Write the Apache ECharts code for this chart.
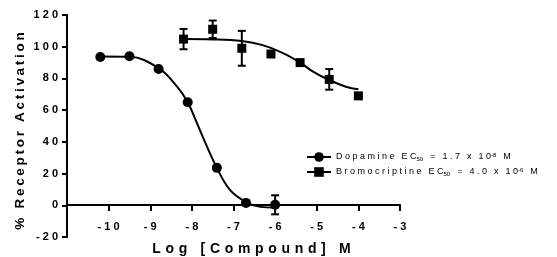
<!DOCTYPE html>
<html>
<head>
<meta charset="utf-8">
<script src="https://cdn.jsdelivr.net/npm/echarts@6/dist/echarts.min.js"></script>
<style>
  html, body { margin: 0; padding: 0; background: #fff; }
  #chart { width: 557px; height: 257px; }
</style>
</head>
<body>
<div id="chart"></div>
<script>
// measured points [log M, % activation]
var dopaminePts = [[-10.2, 93.5], [-9.5, 94], [-8.8, 86], [-8.1, 65], [-7.4, 23.6], [-6.7, 1.5], [-6.0, 0.3]];
var dopamineErr = [0, 0, 0, 0, 0, 0, 6];
var bromoPts = [[-8.2, 104.8], [-7.5, 111], [-6.8, 99], [-6.1, 95.4], [-5.4, 90], [-4.7, 79.4], [-4.0, 69]];
var bromoErr = [6.4, 5.5, 11, 0, 0, 6.5, 0];

// fitted curves
var dopamineFit = [[-10.2, 93.8], [-9.5, 93.6], [-8.8, 86.5], [-8.36, 75], [-8.1, 65], [-7.88, 52], [-7.72, 42],
    [-7.4, 23.6], [-7.08, 9.5], [-6.7, 2], [-6.36, -1], [-6.0, -1.5]];
var bromoFit = [[-8.2, 104.8], [-7.5, 104.6], [-6.8, 103.6], [-6.3, 101], [-5.8, 95.8], [-5.4, 90], [-5.1, 84.5],
    [-4.7, 79], [-4.3, 74.8], [-4.0, 73.2]];

var xTicks = [-11, -3, 1];
var yTicks = [-20, 120, 20];

var names = ['Dopamine', 'Bromocriptine'];
var ec50Base = ['1.7', '4.0'];
var ec50Exp = ['-8', '-6'];

var font = 'Liberation Sans, Arial, Helvetica, sans-serif';

function spaced(s, sep) {
    return String(s).split('').join(sep);
}

var dom = document.getElementById('chart');
var myChart = echarts.init(dom, null, {renderer: 'canvas'});

function errorBars(pts, err) {
    var out = [];
    for (var i = 0; i < pts.length; i++) {
        if (err[i] > 0) out.push([pts[i][0], pts[i][1] - err[i], pts[i][1] + err[i]]);
    }
    return out;
}

function renderErr(params, api) {
    var lo = api.coord([api.value(0), api.value(1)]);
    var hi = api.coord([api.value(0), api.value(2)]);
    var w = 4;
    var st = {stroke: '#000', lineWidth: 2};
    return {
        type: 'group',
        children: [
            {type: 'line', shape: {x1: lo[0], y1: lo[1], x2: hi[0], y2: hi[1]}, style: st},
            {type: 'line', shape: {x1: lo[0] - w, y1: lo[1], x2: lo[0] + w, y2: lo[1]}, style: st},
            {type: 'line', shape: {x1: hi[0] - w, y1: hi[1], x2: hi[0] + w, y2: hi[1]}, style: st}
        ]
    };
}

var gap = '\u2002 ';
var legendText = {};
for (var i = 0; i < names.length; i++) {
    legendText[names[i]] = spaced(names[i], ' ') + gap + spaced('EC', ' ') + '{sub|50}' + gap + '=' + gap +
        spaced(ec50Base[i], ' ') + gap + 'x' + gap + spaced('10', ' ') + '{sup|' + ec50Exp[i] + '}' + gap + 'M';
}

var option = {
    backgroundColor: '#fff',
    animation: false,
    grid: [
        // plotting grid, y from -20 to 120
        {left: 67, right: 157, top: 15, bottom: 20, outerBoundsMode: 'none', containLabel: false},
        // x axis sits on y = 0
        {left: 67, right: 157, top: 15, bottom: 52, outerBoundsMode: 'none', containLabel: false}
    ],
    legend: {
        orient: 'vertical',
        left: 301,
        top: 147,
        itemWidth: 24,
        itemHeight: 12,
        itemGap: 5,
        data: names,
        textStyle: {
            fontFamily: font,
            fontSize: 9,
            color: '#000',
            rich: {
                sub: {fontSize: 6, fontFamily: font, verticalAlign: 'bottom', padding: [3, 0, 0, 0]},
                sup: {fontSize: 6, fontFamily: font, verticalAlign: 'top', padding: [0, 0, 4, 0]}
            }
        },
        formatter: function (name) {
            return legendText[name];
        }
    },
    xAxis: [
        {
            gridIndex: 0,
            type: 'value',
            min: xTicks[0],
            max: xTicks[1],
            interval: xTicks[2],
            show: false
        },
        {
            gridIndex: 1,
            type: 'value',
            min: xTicks[0],
            max: xTicks[1],
            interval: xTicks[2],
            name: spaced('Log [Compound] M', '\u2004'),
            nameLocation: 'middle',
            nameGap: 37,
            nameMoveOverlap: false,
            nameTextStyle: {
                fontFamily: font,
                fontSize: 14,
                fontWeight: 'bold',
                color: '#000',
                padding: [0, 0, 0, 36]
            },
            axisLine: {show: true, onZero: false, lineStyle: {color: '#000', width: 2}},
            axisTick: {show: true, length: 6, lineStyle: {color: '#000', width: 2}},
            axisLabel: {
                showMinLabel: false,
                margin: 16,
                fontFamily: font,
                fontSize: 11,
                fontWeight: 'bold',
                color: '#000',
                formatter: function (v) { return spaced(v, ' '); }
            },
            splitLine: {show: false}
        }
    ],
    yAxis: [
        {
            gridIndex: 0,
            type: 'value',
            min: yTicks[0],
            max: yTicks[1],
            interval: yTicks[2],
            name: spaced('% Receptor Activation', '\u2009'),
            nameLocation: 'middle',
            nameGap: 40,
            nameMoveOverlap: false,
            nameTextStyle: {
                fontFamily: font,
                fontSize: 13.5,
                fontWeight: 'bold',
                color: '#000',
                padding: [0, 10, 0, 0]
            },
            axisLine: {show: true, lineStyle: {color: '#000', width: 2}},
            axisTick: {show: true, length: 5, lineStyle: {color: '#000', width: 2}},
            axisLabel: {
                margin: 9,
                fontFamily: font,
                fontSize: 11,
                fontWeight: 'bold',
                color: '#000',
                formatter: function (v) { return spaced(v, ' '); }
            },
            splitLine: {show: false}
        },
        {
            gridIndex: 1,
            type: 'value',
            min: 0,
            max: yTicks[1],
            show: false
        }
    ],
    series: [
        {
            name: names[0],
            type: 'line',
            data: dopamineFit,
            smooth: 0.4,
            showSymbol: false,
            symbol: 'circle',
            symbolSize: 10,
            lineStyle: {color: '#000', width: 2},
            itemStyle: {color: '#000'}
        },
        {
            name: names[1],
            type: 'line',
            data: bromoFit,
            smooth: 0.4,
            showSymbol: false,
            symbol: 'rect',
            symbolSize: 10,
            lineStyle: {color: '#000', width: 2},
            itemStyle: {color: '#000'}
        },
        {
            name: 'dopamine-err',
            type: 'custom',
            data: errorBars(dopaminePts, dopamineErr),
            renderItem: renderErr
        },
        {
            name: 'bromo-err',
            type: 'custom',
            data: errorBars(bromoPts, bromoErr),
            renderItem: renderErr
        },
        {
            name: 'dopamine-pts',
            type: 'scatter',
            data: dopaminePts,
            symbol: 'circle',
            symbolSize: 10,
            itemStyle: {color: '#000', opacity: 1}
        },
        {
            name: 'bromo-pts',
            type: 'scatter',
            data: bromoPts,
            symbol: 'rect',
            symbolSize: 9,
            itemStyle: {color: '#000', opacity: 1}
        }
    ]
};

myChart.setOption(option);
</script>
</body>
</html>
